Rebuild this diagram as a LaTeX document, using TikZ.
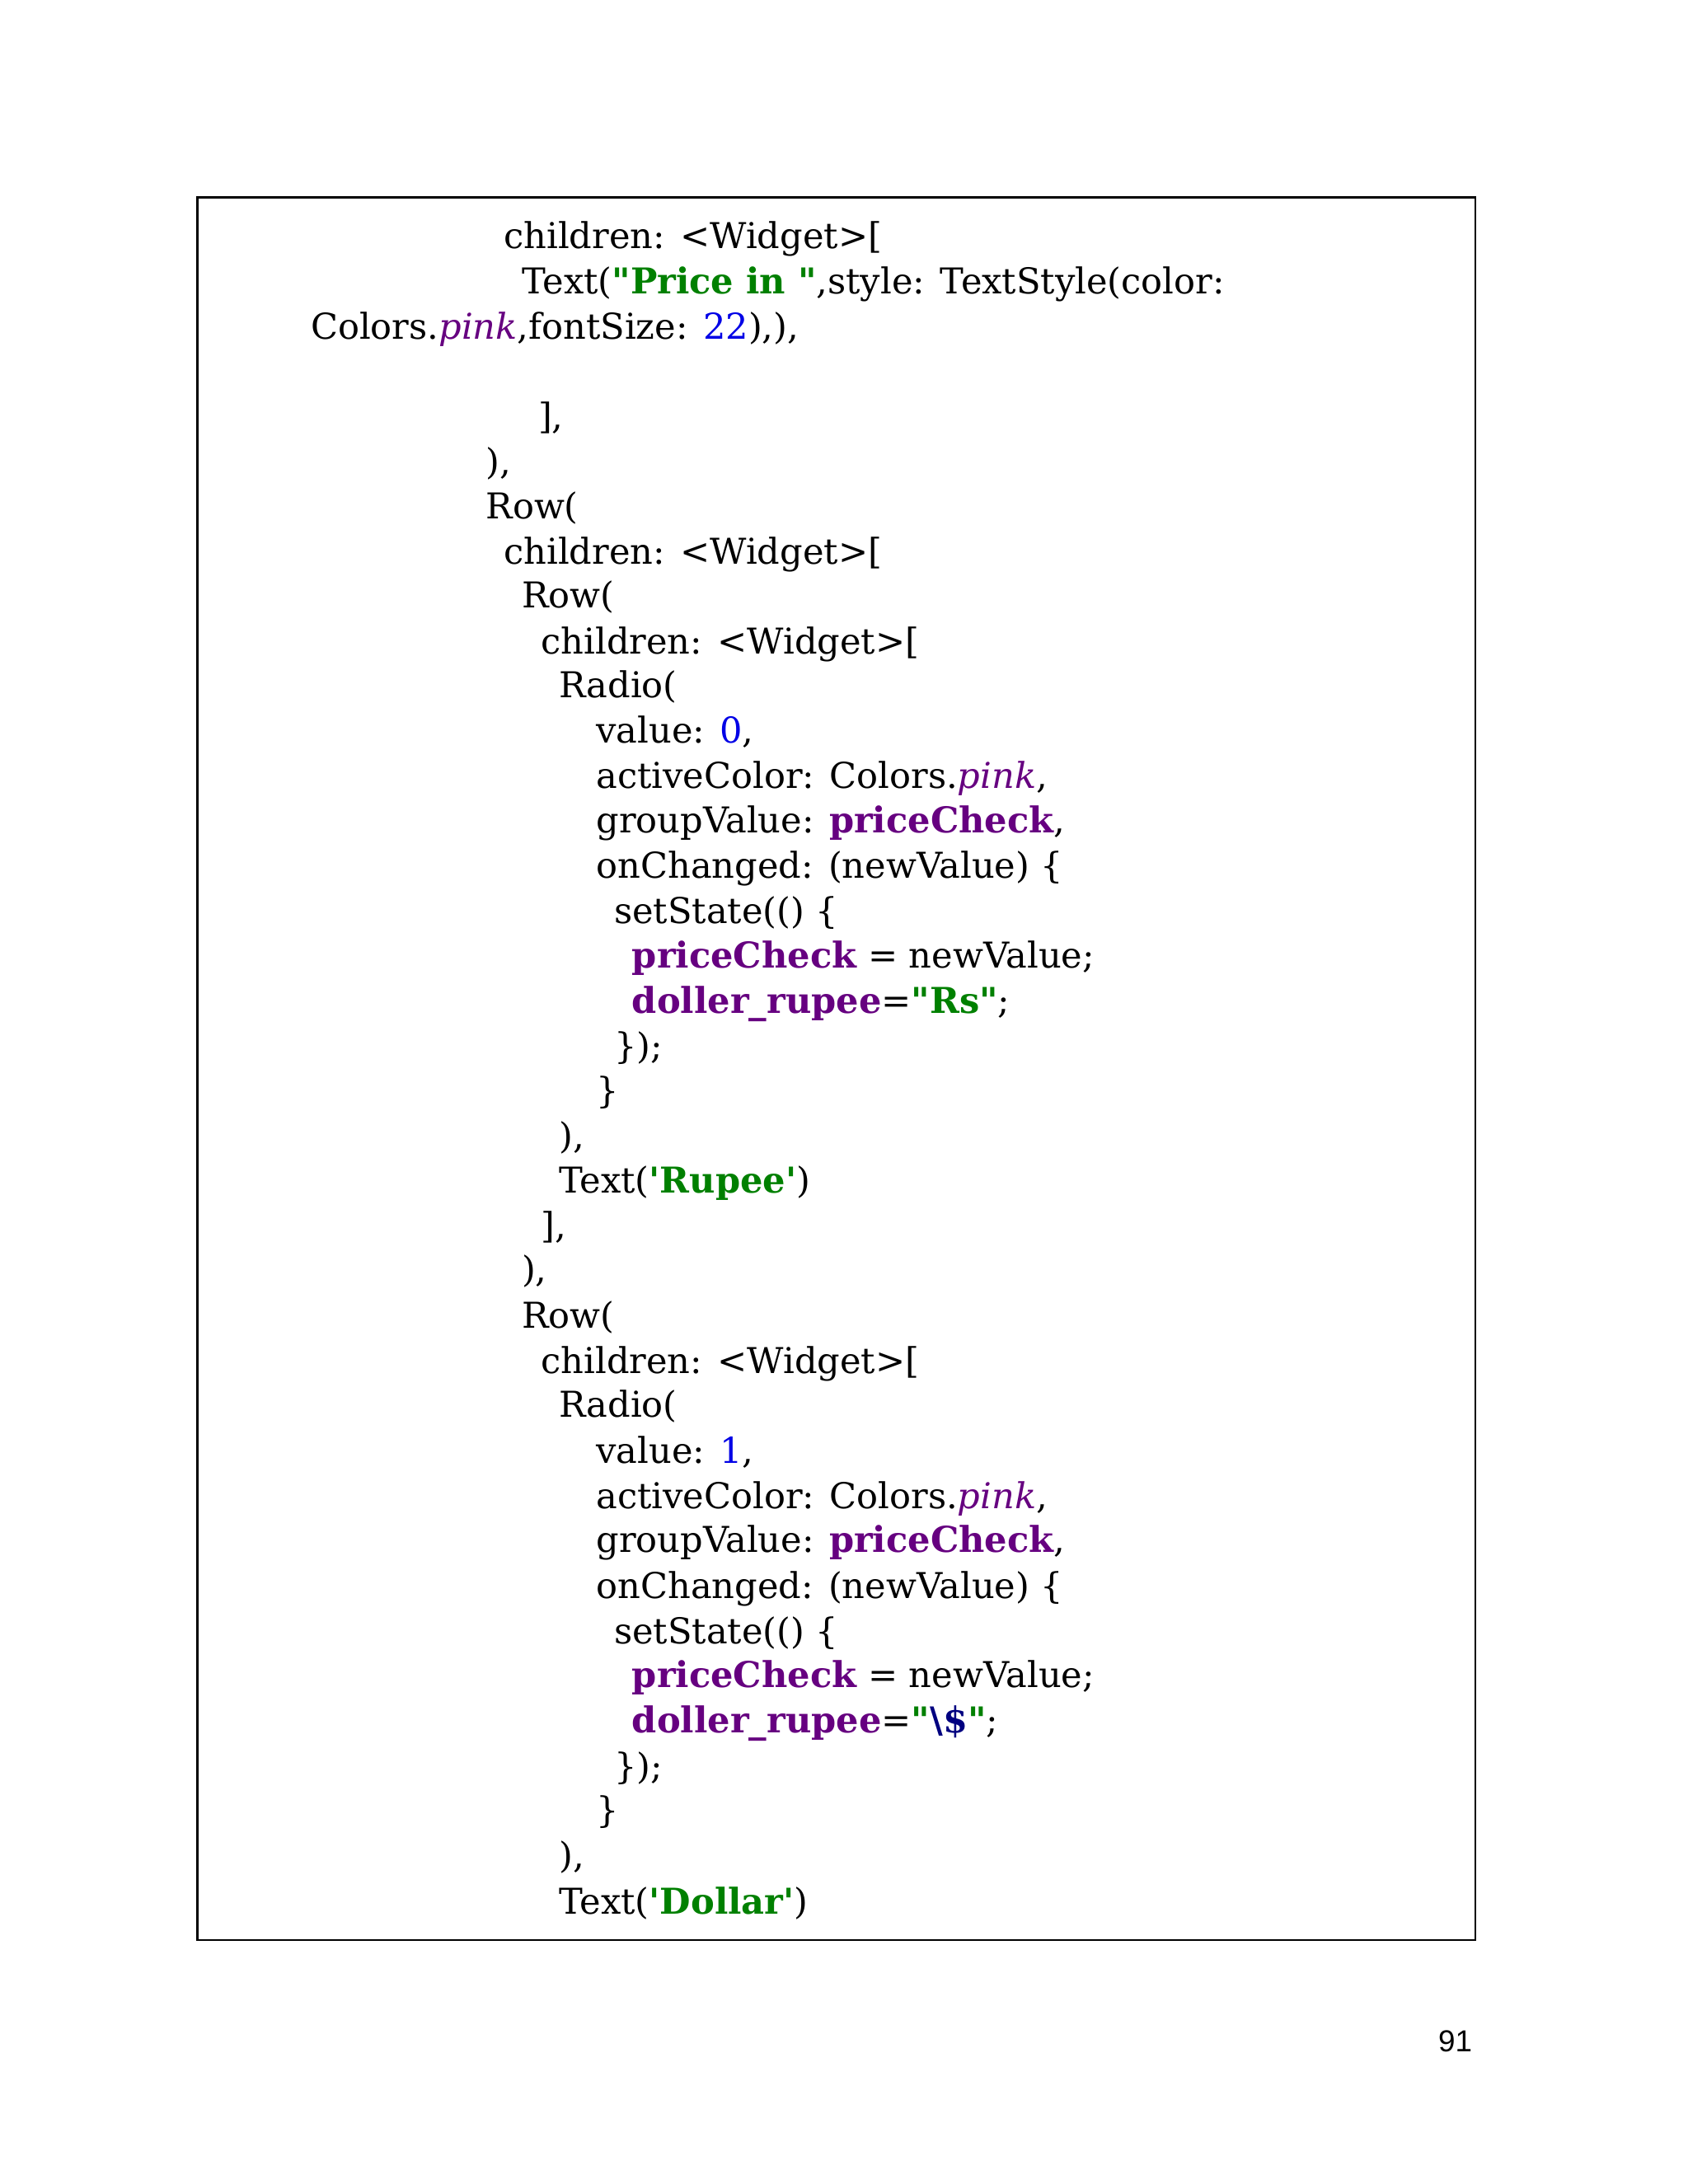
\documentclass[tikz,border=0pt]{standalone}
\usepackage{fontspec}
\setmainfont{DejaVu Serif}
\newfontfamily\qf{DejaVu Serif}
\setsansfont{Liberation Sans}
\definecolor{strg}{RGB}{0,128,0}
\definecolor{idp}{RGB}{102,0,128}
\definecolor{numb}{RGB}{0,0,230}
\definecolor{dkb}{RGB}{0,0,128}
\newcommand{\dq}{{\qf\symbol{34}}}
\newcommand{\sq}{{\qf\symbol{39}}}
\newcommand{\St}[1]{\textbf{\textcolor{strg}{#1}}}
\newcommand{\Id}[1]{\textbf{\textcolor{idp}{#1}}}
\newcommand{\Pk}[1]{\textit{\textcolor{idp}{#1}}}
\newcommand{\Nm}[1]{\textcolor{numb}{#1}}
\begin{document}
\begin{tikzpicture}[x=0.5pt,y=-0.5pt,
  code/.style={anchor=base west,inner sep=0pt,font=\fontsize{12.9}{16}\selectfont}]
\useasboundingbox (0,0) rectangle (1224,1584);
\draw[line width=0.8pt] (143,143) rectangle (1070,1407);
\node[code] (l1) at (365,180) {children: <Widget>[};
\node[code] (l2) at (378,213) {Text(\St{\dq Price in \dq},style: TextStyle(color:};
\node[code] (l3) at (225,246) {Colors.\Pk{pink},fontSize: \Nm{22}),),};
\node[code] (l5) at (390,311) {],};
\node[code] (l6) at (352,344) {),};
\node[code] (l7) at (352,376) {Row(};
\node[code] (l8) at (365,409) {children: <Widget>[};
\node[code] (l9) at (378,441) {Row(};
\node[code] (l10) at (392,474) {children: <Widget>[};
\node[code] (l11) at (405,506) {Radio(};
\node[code] (l12) at (432,539) {value: \Nm{0},};
\node[code] (l13) at (432,572) {activeColor: Colors.\Pk{pink},};
\node[code] (l14) at (432,604) {groupValue: \Id{priceCheck},};
\node[code] (l15) at (432,637) {onChanged: (newValue) \{};
\node[code] (l16) at (445,670) {setState(() \{};
\node[code] (l17) at (458,702) {\Id{priceCheck} = newValue;};
\node[code] (l18) at (458,735) {\Id{doller\_rupee}=\St{\dq Rs\dq};};
\node[code] (l19) at (445,768) {\});};
\node[code] (l20) at (432,800) {\}};
\node[code] (l21) at (405,833) {),};
\node[code] (l22) at (405,865) {Text(\St{\sq Rupee\sq})};
\node[code] (l23) at (392,898) {],};
\node[code] (l24) at (378,930) {),};
\node[code] (l25) at (378,963) {Row(};
\node[code] (l26) at (392,996) {children: <Widget>[};
\node[code] (l27) at (405,1028) {Radio(};
\node[code] (l28) at (432,1061) {value: \Nm{1},};
\node[code] (l29) at (432,1094) {activeColor: Colors.\Pk{pink},};
\node[code] (l30) at (432,1126) {groupValue: \Id{priceCheck},};
\node[code] (l31) at (432,1159) {onChanged: (newValue) \{};
\node[code] (l32) at (445,1192) {setState(() \{};
\node[code] (l33) at (458,1224) {\Id{priceCheck} = newValue;};
\node[code] (l34) at (458,1257) {\Id{doller\_rupee}=\St{\dq}\textbf{\textcolor{dkb}{\textbackslash\$}}\St{\dq};};
\node[code] (l35) at (445,1290) {\});};
\node[code] (l36) at (432,1322) {\}};
\node[code] (l37) at (405,1355) {),};
\node[code] (l38) at (405,1388) {Text(\St{\sq Dollar\sq})};
\node[anchor=base east,inner sep=0pt,font=\sffamily\fontsize{11}{13}\selectfont] (pg) at (1068,1488) {91};
\end{tikzpicture}
\end{document}
